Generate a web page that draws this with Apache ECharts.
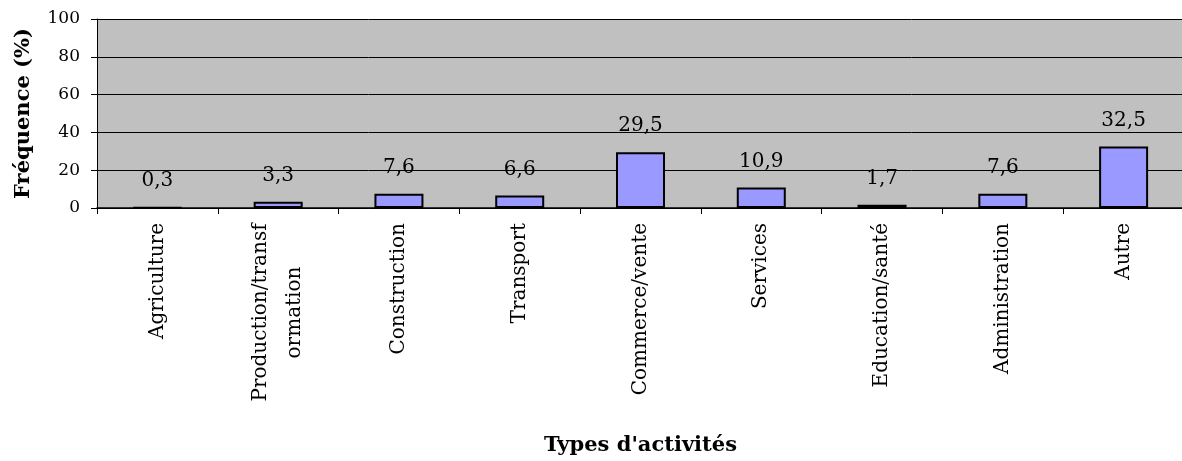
<!DOCTYPE html>
<html>
<head>
<meta charset="utf-8">
<script src="https://cdn.jsdelivr.net/npm/echarts@6/dist/echarts.min.js"></script>
<style>
html,body{margin:0;padding:0;background:#fff;}
#chart{width:1182px;height:461px;}
</style>
</head>
<body>
<div id="chart"></div>
<script>
const categories = ['Agriculture', 'Production/transf\normation', 'Construction', 'Transport', 'Commerce/vente', 'Services', 'Education/santé', 'Administration', 'Autre'];
const values = [0.3, 3.3, 7.6, 6.6, 29.5, 10.9, 1.7, 7.6, 32.5];
const yTicks = [0, 20, 40, 60, 80, 100];
const yAxisTitle = 'Fréquence (%)';
const xAxisTitle = "Types d'activités";

const FONT = 'DejaVu Serif';
const LABEL_SIZE = 20;

function measure(text, size) {
  const c = document.createElement('canvas').getContext('2d');
  c.font = size + 'px "' + FONT + '"';
  return c.measureText(text).width;
}

const chart = echarts.init(document.getElementById('chart'), null, {renderer: 'canvas'});
chart.setOption({
  animation: false,
  grid: {
    left: 97, right: -2, top: 19, bottom: 253,
    containLabel: false, outerBoundsMode: 'none',
    show: true, backgroundColor: '#c0c0c0', borderWidth: 0
  },
  xAxis: {
    type: 'category',
    data: categories,
    name: xAxisTitle,
    nameLocation: 'middle',
    nameGap: 227,
    nameTextStyle: {fontFamily: FONT, fontWeight: 'bold', fontSize: 21, color: '#000'},
    axisLine: {lineStyle: {color: '#000', width: 1.5}},
    axisTick: {show: true, alignWithLabel: false, length: 6, lineStyle: {color: '#000'}},
    axisLabel: {
      interval: 0,
      rotate: 90,
      margin: 15,
      fontFamily: FONT,
      fontSize: LABEL_SIZE,
      color: '#000',
      formatter: function (v) {
        if (v.indexOf('\n') < 0) return v;
        const lines = v.split('\n');
        return lines.map(l => '{c|' + l + '}').join('\n');
      },
      rich: {
        c: {
          fontFamily: FONT, fontSize: LABEL_SIZE, color: '#000',
          width: Math.ceil(Math.max.apply(null, categories.filter(c => c.indexOf('\n') >= 0).join('\n').split('\n').map(l => measure(l, LABEL_SIZE)))),
          align: 'center',
          lineHeight: 34
        }
      }
    },
    splitLine: {show: false}
  },
  yAxis: {
    type: 'value',
    min: yTicks[0],
    max: yTicks[yTicks.length - 1],
    interval: yTicks[1] - yTicks[0],
    name: yAxisTitle,
    nameLocation: 'middle',
    nameGap: 63,
    nameTextStyle: {fontFamily: FONT, fontWeight: 'bold', fontSize: 21, color: '#000'},
    axisLine: {show: true, lineStyle: {color: '#000', width: 1}},
    axisTick: {show: true, length: 6, lineStyle: {color: '#000'}},
    axisLabel: {fontFamily: FONT, fontSize: 17, color: '#000', margin: 17},
    splitLine: {show: true, lineStyle: {color: '#000', width: 1}}
  },
  series: [{
    type: 'bar',
    data: values,
    barWidth: 49,
    itemStyle: {color: '#9999ff', borderColor: '#000', borderWidth: 2},
    label: {
      show: true,
      position: 'top',
      distance: 16,
      fontFamily: FONT,
      fontSize: 20,
      color: '#000',
      formatter: p => String(p.value).replace('.', ',')
    }
  }]
});
</script>
</body>
</html>
